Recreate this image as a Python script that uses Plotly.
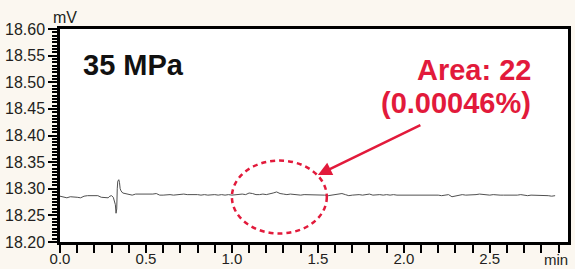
import plotly.graph_objects as go

# ---- data ----
time_min = [0.00, 0.02, 0.04, 0.06, 0.08, 0.10, 0.12, 0.14, 0.16, 0.18, 0.20, 0.22, 0.24, 0.26, 0.28,
            0.29, 0.30, 0.31, 0.315, 0.322, 0.326, 0.330, 0.333, 0.336, 0.342, 0.346, 0.350, 0.355,
            0.365, 0.38, 0.40, 0.42, 0.44, 0.46, 0.48, 0.50, 0.52, 0.54, 0.56, 0.58, 0.60, 0.62,
            0.64, 0.66, 0.68, 0.70, 0.72, 0.74, 0.76, 0.78, 0.80, 0.82, 0.84, 0.86, 0.88, 0.90,
            0.92, 0.94, 0.96, 0.98, 1.00, 1.02, 1.04, 1.06, 1.08, 1.10, 1.12, 1.14, 1.16, 1.18,
            1.20, 1.22, 1.24, 1.26, 1.28, 1.30, 1.32, 1.34, 1.36, 1.38, 1.40, 1.42, 1.44, 1.46,
            1.48, 1.50, 1.52, 1.54, 1.56, 1.58, 1.60, 1.62, 1.64, 1.66, 1.68, 1.70, 1.72, 1.74,
            1.76, 1.78, 1.80, 1.82, 1.84, 1.86, 1.88, 1.90, 1.92, 1.94, 1.96, 1.98, 2.00, 2.02,
            2.04, 2.06, 2.08, 2.10, 2.12, 2.14, 2.16, 2.18, 2.20, 2.22, 2.24, 2.26, 2.28, 2.30,
            2.32, 2.34, 2.36, 2.38, 2.40, 2.42, 2.44, 2.46, 2.48, 2.50, 2.52, 2.54, 2.56, 2.58,
            2.60, 2.62, 2.64, 2.66, 2.68, 2.70, 2.72, 2.74, 2.76, 2.78, 2.80, 2.82, 2.84, 2.86,
            2.88, 2.90, 2.92, 2.94, 2.955]
signal_mv = [18.286, 18.284, 18.283, 18.285, 18.285, 18.284, 18.283, 18.286, 18.287, 18.287, 18.286,
             18.287, 18.284, 18.283, 18.283, 18.286, 18.287, 18.284, 18.276, 18.270, 18.254, 18.262,
             18.300, 18.314, 18.317, 18.312, 18.300, 18.296, 18.292, 18.291, 18.290, 18.288, 18.290,
             18.290, 18.289, 18.289, 18.289, 18.290, 18.291, 18.288, 18.288, 18.289, 18.289, 18.288,
             18.289, 18.290, 18.290, 18.289, 18.289, 18.290, 18.289, 18.288, 18.289, 18.288, 18.289,
             18.289, 18.288, 18.289, 18.288, 18.289, 18.288, 18.289, 18.289, 18.290, 18.289, 18.292,
             18.291, 18.289, 18.289, 18.290, 18.289, 18.290, 18.292, 18.294, 18.291, 18.290, 18.289,
             18.290, 18.289, 18.289, 18.288, 18.289, 18.289, 18.288, 18.289, 18.289, 18.289, 18.288,
             18.287, 18.288, 18.289, 18.289, 18.291, 18.289, 18.287, 18.288, 18.289, 18.289, 18.288,
             18.289, 18.290, 18.288, 18.289, 18.289, 18.288, 18.289, 18.288, 18.289, 18.288, 18.288,
             18.289, 18.288, 18.288, 18.289, 18.288, 18.289, 18.288, 18.289, 18.288, 18.289, 18.288,
             18.287, 18.288, 18.289, 18.285, 18.286, 18.288, 18.289, 18.288, 18.288, 18.289, 18.289,
             18.290, 18.289, 18.288, 18.288, 18.289, 18.288, 18.288, 18.288, 18.288, 18.288, 18.287,
             18.288, 18.289, 18.288, 18.287, 18.288, 18.288, 18.287, 18.288, 18.287, 18.287, 18.286,
             18.287]

x_ticks = [0.0, 0.5, 1.0, 1.5, 2.0, 2.5]
y_ticks = [18.20, 18.25, 18.30, 18.35, 18.40, 18.45, 18.50, 18.55, 18.60]

title_text = "35 MPa"
area_text = "Area: 22"
pct_text = "(0.00046%)"

# highlighted region (ellipse) and arrow
ellipse_x = [1.0, 1.552]
ellipse_y = [18.216, 18.353]
arrow_head = (1.50, 18.326)
arrow_tail = (2.105, 18.421)

RED = "#E21A3B"
BG = "#FBF7F0"
INK = "#231F20"
FONT = "Liberation Sans"

# plot area in pixels: x 60..568, y 29..242
L, R, T, B = 60, 568, 29, 242
def px(x):
    return (x - L) / (R - L)
def py(y):
    return (B - y) / (B - T)

fig = go.Figure()
fig.add_trace(go.Scatter(x=time_min, y=signal_mv, mode="lines",
                         line=dict(color="#505050", width=1), hoverinfo="skip", showlegend=False))

fig.add_shape(type="circle", xref="x", yref="y",
              x0=ellipse_x[0], x1=ellipse_x[1], y0=ellipse_y[0], y1=ellipse_y[1],
              line=dict(color=RED, width=2.5, dash="5px,4px"))

fig.add_annotation(x=arrow_head[0], y=arrow_head[1], ax=arrow_tail[0], ay=arrow_tail[1],
                   xref="x", yref="y", axref="x", ayref="y", text="", showarrow=True,
                   arrowhead=2, arrowsize=1.1, arrowwidth=2.5, arrowcolor=RED)

fig.add_annotation(x=px(81), y=py(65), xref="paper", yref="paper",
                   text="<b>" + title_text + "</b>", showarrow=False, xanchor="left", yanchor="middle",
                   font=dict(family=FONT, size=29, color="#111"))
fig.add_annotation(x=px(533), y=py(69.5), xref="paper", yref="paper",
                   text="<b>" + area_text + "</b>", showarrow=False, xanchor="right", yanchor="middle",
                   font=dict(family=FONT, size=29, color=RED))
fig.add_annotation(x=px(533), y=py(103), xref="paper", yref="paper",
                   text="<b>" + pct_text + "</b>", showarrow=False, xanchor="right", yanchor="middle",
                   font=dict(family=FONT, size=29, color=RED))

fig.add_annotation(x=px(65), y=py(18), xref="paper", yref="paper",
                   text="mV", showarrow=False, xanchor="center", yanchor="middle",
                   font=dict(family=FONT, size=16, color=INK))
fig.add_annotation(x=px(556), y=py(259.5), xref="paper", yref="paper",
                   text="min", showarrow=False, xanchor="center", yanchor="middle",
                   font=dict(family=FONT, size=15, color=INK))

fig.update_xaxes(range=[0, 2.955], tickvals=x_ticks, ticktext=[f"{v:.1f}" for v in x_ticks],
                 ticks="outside", ticklen=8, tickwidth=2, tickcolor="black",
                 minor=dict(dtick=0.1, ticks="outside", ticklen=8, tickwidth=2, tickcolor="black"),
                 showline=True, linewidth=2.5, linecolor="black", mirror=True,
                 showgrid=False, zeroline=False, automargin=False, ticklabelstandoff=-7,
                 tickfont=dict(family=FONT, size=15, color=INK))
fig.update_yaxes(range=[18.20, 18.60], tickvals=y_ticks, ticktext=[f"{v:.2f}" for v in y_ticks],
                 ticks="outside", ticklen=9, tickwidth=2, tickcolor="black",
                 minor=dict(dtick=0.00625, tick0=18.20, ticks="outside", ticklen=5, tickwidth=1.5,
                            tickcolor="black"),
                 showline=True, linewidth=2.5, linecolor="black", mirror=True,
                 showgrid=False, zeroline=False, automargin=False,
                 tickfont=dict(family=FONT, size=16, color=INK))

fig.update_layout(width=575, height=269, margin=dict(l=L, r=575 - R, t=T, b=269 - B),
                  paper_bgcolor=BG, plot_bgcolor="white", showlegend=False)

fig.write_html("out.html", config={"displayModeBar": False},
               post_script="document.body.style.margin='0';document.body.style.overflow='hidden';"
                           "document.body.style.background='" + BG + "';")
